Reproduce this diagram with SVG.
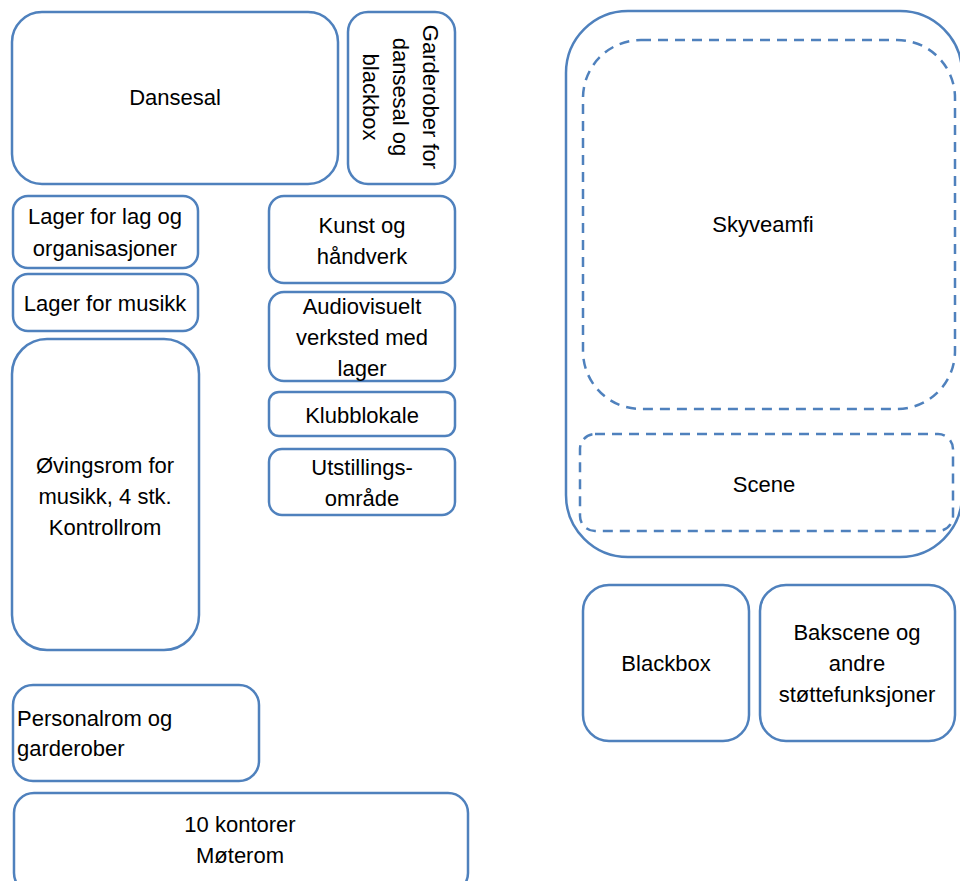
<svg xmlns="http://www.w3.org/2000/svg" width="960" height="881" viewBox="0 0 960 881">
<style>
.box{fill:#ffffff;stroke:#4f81bd;stroke-width:2.5}
.dash{fill:none;stroke:#4f81bd;stroke-width:2.5;stroke-dasharray:10 7}
text{font-family:"Liberation Sans",Arial,sans-serif;font-size:22px;fill:#000000;text-anchor:middle}
.left{text-anchor:start}
</style>
<rect width="960" height="881" fill="#ffffff"/>
<g id="dansesal"><rect class="box" x="12" y="12" width="326" height="172" rx="30"/><text x="175" y="105">Dansesal</text></g>
<g id="garderober"><rect class="box" x="348" y="12" width="107" height="172" rx="20"/>
<g transform="translate(401,97) rotate(90)"><text x="0" y="-22">Garderober for</text><text x="0" y="8">dansesal og</text><text x="0" y="38">blackbox</text></g></g>
<g id="lager-lag"><rect class="box" x="13" y="196" width="185" height="72" rx="15"/><text x="105" y="224">Lager for lag og</text><text x="105" y="256">organisasjoner</text></g>
<g id="lager-musikk"><rect class="box" x="13" y="274" width="185" height="57" rx="15"/><text x="105" y="311">Lager for musikk</text></g>
<g id="ovingsrom"><rect class="box" x="12" y="339" width="187" height="311" rx="35"/><text x="105" y="473">Øvingsrom for</text><text x="105" y="504">musikk, 4 stk.</text><text x="105" y="535">Kontrollrom</text></g>
<g id="kunst"><rect class="box" x="269" y="196" width="186" height="87" rx="15"/><text x="362" y="233">Kunst og</text><text x="362" y="264">håndverk</text></g>
<g id="audiovisuelt"><rect class="box" x="269" y="292" width="186" height="89" rx="15"/><text x="362" y="314">Audiovisuelt</text><text x="362" y="345">verksted med</text><text x="362" y="376">lager</text></g>
<g id="klubblokale"><rect class="box" x="269" y="392" width="186" height="44" rx="10"/><text x="362" y="423">Klubblokale</text></g>
<g id="utstilling"><rect class="box" x="269" y="449" width="186" height="66" rx="13"/><text x="362" y="475">Utstillings-</text><text x="362" y="506">område</text></g>
<g id="personalrom"><rect class="box" x="13" y="685" width="246" height="96" rx="20"/><text class="left" x="17" y="726">Personalrom og</text><text class="left" x="17" y="756">garderober</text></g>
<g id="kontorer"><rect class="box" x="14" y="793" width="454" height="100" rx="20"/><text x="240" y="832">10 kontorer</text><text x="240" y="863">Møterom</text></g>
<g id="hovedsal"><rect class="box" x="566" y="11" width="396" height="546" rx="62"/></g>
<g id="skyveamfi"><rect class="dash" x="583" y="40" width="372" height="369" rx="58"/><text x="763" y="232">Skyveamfi</text></g>
<g id="scene"><rect class="dash" x="580" y="434" width="373" height="97" rx="15"/><text x="764" y="492">Scene</text></g>
<g id="blackbox"><rect class="box" x="583" y="585" width="166" height="156" rx="26"/><text x="666" y="671">Blackbox</text></g>
<g id="bakscene"><rect class="box" x="760" y="585" width="195" height="156" rx="26"/><text x="857" y="640">Bakscene og</text><text x="857" y="671">andre</text><text x="857" y="702">støttefunksjoner</text></g>
<g id="connectors"></g>
</svg>
